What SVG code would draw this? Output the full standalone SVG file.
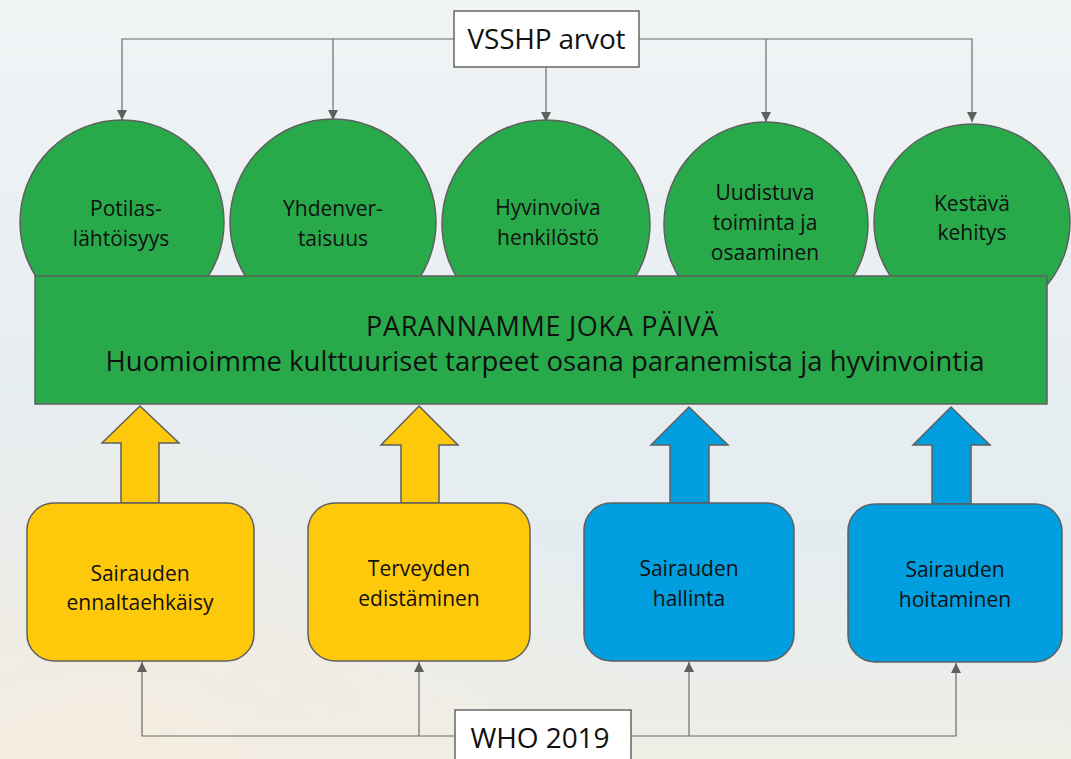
<svg xmlns="http://www.w3.org/2000/svg" width="1071" height="759" viewBox="0 0 1071 759">
<defs>
<linearGradient id="bg" x1="0" y1="0" x2="0" y2="1">
<stop offset="0" stop-color="#f1f4f5"/>
<stop offset="0.35" stop-color="#e9eff2"/>
<stop offset="0.7" stop-color="#e4ecf0"/>
<stop offset="1" stop-color="#eeeee6"/>
</linearGradient>
<radialGradient id="warm" cx="0.1" cy="1" r="0.5">
<stop offset="0" stop-color="#f5ece0" stop-opacity="0.9"/>
<stop offset="1" stop-color="#f5ece0" stop-opacity="0"/>
</radialGradient>
<marker id="ah" viewBox="0 0 10 10" refX="10" refY="5" markerWidth="10" markerHeight="10" markerUnits="userSpaceOnUse" orient="auto">
<path d="M0,0 L10,5 L0,10 z" fill="#5f5f5f"/>
</marker>
<style>
.conn{fill:none;stroke:#6b6b6b;stroke-width:1.2}
.lbl{fill:#fff;stroke:#666;stroke-width:1.5}
.circ{fill:#28aa4b;stroke:#5f5f5f;stroke-width:1.5}
.bar{fill:#28aa4b;stroke:#5f5f5f;stroke-width:1.5}
.yel{fill:#ffc90b;stroke:#5f5f5f;stroke-width:1.5}
.blu{fill:#019fdf;stroke:#5f5f5f;stroke-width:1.5}
text{font-family:"Open Sans","Liberation Sans",sans-serif;fill:#111;text-anchor:middle}
.t{font-size:21px}
.big{font-size:28px}
</style>
</defs>
<rect width="1071" height="759" fill="url(#bg)"/>
<rect width="1071" height="759" fill="url(#warm)"/>

<g id="connectors">
<path class="conn" d="M454,39 H122 V120" marker-end="url(#ah)"/>
<path class="conn" d="M333,39 V120" marker-end="url(#ah)"/>
<path class="conn" d="M546,67 V122" marker-end="url(#ah)"/>
<path class="conn" d="M639,39 H972 V122" marker-end="url(#ah)"/>
<path class="conn" d="M766,39 V122" marker-end="url(#ah)"/>
<path class="conn" d="M455,736 H142 V662" marker-end="url(#ah)"/>
<path class="conn" d="M419,736 V662" marker-end="url(#ah)"/>
<path class="conn" d="M631,736 H956 V663" marker-end="url(#ah)"/>
<path class="conn" d="M689,736 V662" marker-end="url(#ah)"/>
<path class="yel" d="M140,406 L179,443 H159 V503 H121 V443 H102 Z"/>
<path class="yel" d="M419,406 L458,445 H439 V503 H401 V445 H381 Z"/>
<path class="blu" d="M689,407 L728,445 H709 V503 H670 V445 H651 Z"/>
<path class="blu" d="M951,407 L990,445 H971 V504 H932 V445 H913 Z"/>
</g>

<g id="vsshp">
<rect class="lbl" x="454" y="11" width="185" height="56"/>
<text class="big" x="546.5" y="49" textLength="158">VSSHP arvot</text>
</g>

<g id="c1">
<circle class="circ" cx="122" cy="222" r="102"/>
<text class="t" x="126" y="216">Potilas-</text>
<text class="t" x="121" y="246">lähtöisyys</text>
</g>
<g id="c2">
<circle class="circ" cx="333" cy="222" r="103"/>
<text class="t" x="333" y="216">Yhdenver-</text>
<text class="t" x="333" y="246">taisuus</text>
</g>
<g id="c3">
<circle class="circ" cx="546" cy="224" r="104"/>
<text class="t" x="548" y="215">Hyvinvoiva</text>
<text class="t" x="548" y="245">henkilöstö</text>
</g>
<g id="c4">
<circle class="circ" cx="766" cy="224" r="102"/>
<text class="t" x="765" y="200">Uudistuva</text>
<text class="t" x="765" y="230">toiminta ja</text>
<text class="t" x="765" y="260">osaaminen</text>
</g>
<g id="c5">
<circle class="circ" cx="972" cy="222" r="98"/>
<text class="t" x="972" y="211">Kestävä</text>
<text class="t" x="972" y="240">kehitys</text>
</g>

<g id="main">
<rect class="bar" x="35" y="276" width="1012" height="128"/>
<text x="542" y="336" style="font-size:27px" textLength="352">PARANNAMME JOKA PÄIVÄ</text>
<text x="545" y="371" style="font-size:27.5px" textLength="879">Huomioimme kulttuuriset tarpeet osana paranemista ja hyvinvointia</text>
</g>

<g id="b1">
<rect class="yel" x="27" y="503" width="227" height="158" rx="27"/>
<text class="t" x="140" y="581">Sairauden</text>
<text class="t" x="140" y="610">ennaltaehkäisy</text>
</g>
<g id="b2">
<rect class="yel" x="308" y="503" width="222" height="158" rx="27"/>
<text class="t" x="419" y="576">Terveyden</text>
<text class="t" x="419" y="606">edistäminen</text>
</g>
<g id="b3">
<rect class="blu" x="584" y="503" width="210" height="158" rx="27"/>
<text class="t" x="689" y="576">Sairauden</text>
<text class="t" x="689" y="606">hallinta</text>
</g>
<g id="b4">
<rect class="blu" x="848" y="504" width="214" height="158" rx="27"/>
<text class="t" x="955" y="577">Sairauden</text>
<text class="t" x="955" y="607">hoitaminen</text>
</g>

<g id="who">
<rect class="lbl" x="455" y="710" width="176" height="56"/>
<text class="big" x="540" y="748" textLength="139">WHO 2019</text>
</g>
</svg>
